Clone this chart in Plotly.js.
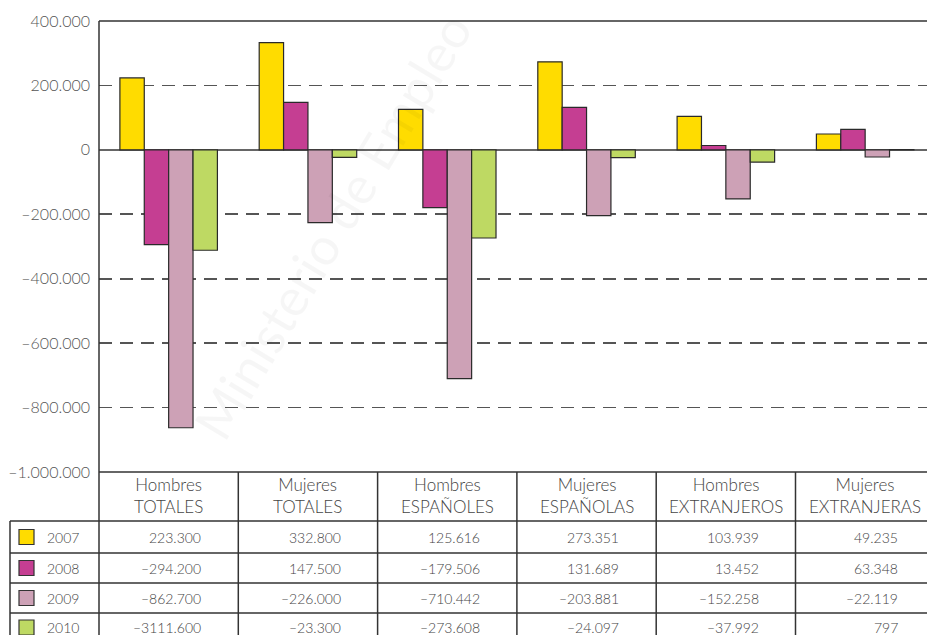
<!DOCTYPE html>
<html>
<head>
<meta charset="utf-8">
<script src="https://cdn.plot.ly/plotly-3.0.1.min.js"></script>
<style>
  html, body { margin: 0; padding: 0; background: #fff; }
  #chart { width: 927px; height: 635px; }
</style>
</head>
<body>
<div id="chart"></div>
<script>
// Variación del empleo por sexo y nacionalidad, 2007-2010.
const groups = ['Hombres TOTALES', 'Mujeres TOTALES', 'Hombres ESPAÑOLES',
                'Mujeres ESPAÑOLAS', 'Hombres EXTRANJEROS', 'Mujeres EXTRANJERAS'];
const groupHeads = ['Hombres<br>TOTALES', 'Mujeres<br>TOTALES', 'Hombres<br>ESPAÑOLES',
                    'Mujeres<br>ESPAÑOLAS', 'Hombres<br>EXTRANJEROS', 'Mujeres<br>EXTRANJERAS'];
const years = ['2007', '2008', '2009', '2010'];
const v2007 = [223300, 332800, 125616, 273351, 103939, 49235];
const v2008 = [-294200, 147500, -179506, 131689, 13452, 63348];
const v2009 = [-862700, -226000, -710442, -203881, -152258, -22119];
const v2010 = [-311600, -23300, -273608, -24097, -37992, 797];
// the printed table carries a typo in this cell (row, column)
const misprints = { '3,0': '–3111.600' };
const yTicks = [400000, 200000, 0, -200000, -400000, -600000, -800000, -1000000];
const yTickText = ['400.000', '200.000', '0', '–200.000', '–400.000',
                   '–600.000', '–800.000', '–1.000.000'];
const colors = ['#FFDC00', '#C53E92', '#CDA1B6', '#BED963'];

const series = [v2007, v2008, v2009, v2010];

// page geometry (px)
const W = 927, H = 635, L = 99, T = 21, B = 163;
const plotW = W - L, plotH = H - T - B, bottom = H - B;
const colW = 139.3;
const rowEdges = [bottom, 521, 553, 583, 613, 650];
const px = x => (x - L) / plotW;
const py = y => (bottom - y) / plotH;
const colEdge = i => L + i * colW;

const FONT = 'Lato, "Open Sans", sans-serif';
const INK = '#333';
const TXT = { family: FONT, size: 14, color: '#444', weight: 300 };

function fmt(v) {
  const s = Math.abs(v).toString().replace(/\B(?=(\d{3})+(?!\d))/g, '.');
  return (v < 0 ? '–' : '') + s;
}

const traces = series.map((vals, k) => ({
  type: 'bar',
  name: years[k],
  x: groups,
  y: vals,
  marker: { color: colors[k], line: { color: '#2a2a2a', width: 1.2 } },
  hoverinfo: 'x+y+name',
}));

const line = (x0, y0, x1, y1, w = 1.5) => ({
  type: 'line', xref: 'paper', yref: 'paper',
  x0: px(x0), y0: py(y0), x1: px(x1), y1: py(y1),
  line: { color: INK, width: w },
});

const shapes = [];
shapes.push(line(L, T, W, T));                  // top frame
shapes.push(line(L, bottom, W, bottom));        // bottom frame / table top
shapes.push(line(L, T, L, H + 10));             // y axis through the table
shapes.push(line(10, rowEdges[1], 10, H + 10)); // legend column edge
for (let i = 1; i < 6; i++) shapes.push(line(colEdge(i), bottom, colEdge(i), H + 10));
for (let r = 1; r < 5; r++) shapes.push(line(10, rowEdges[r], W + 10, rowEdges[r]));

const annotations = [];
// watermark
annotations.push({
  xref: 'paper', yref: 'paper', x: px(332), y: py(226),
  text: 'Ministerio de Empleo', showarrow: false,
  textangle: -59, font: { family: FONT, size: 52, color: 'rgba(0,0,0,0.035)' },
  xanchor: 'center', yanchor: 'middle',
});
// column headers
groupHeads.forEach((h, i) => annotations.push({
  xref: 'paper', yref: 'paper', x: px(colEdge(i) + colW / 2), y: py((rowEdges[0] + rowEdges[1]) / 2 - 1),
  text: h, showarrow: false, xanchor: 'center', yanchor: 'middle',
  font: { ...TXT, size: 17 },
}));
// legend column + values
series.forEach((vals, r) => {
  const yc = (rowEdges[r + 1] + rowEdges[r + 2]) / 2 - (r === 3 ? 4 : 0);
  shapes.push({
    type: 'rect', xref: 'paper', yref: 'paper',
    x0: px(19), x1: px(34), y0: py(yc - 7.5), y1: py(yc + 7.5),
    fillcolor: colors[r], line: { color: INK, width: 1.2 },
  });
  annotations.push({
    xref: 'paper', yref: 'paper', x: px(45), y: py(yc),
    text: years[r], showarrow: false, xanchor: 'left', yanchor: 'middle',
    font: TXT,
  });
  vals.forEach((v, i) => annotations.push({
    xref: 'paper', yref: 'paper', x: px(colEdge(i + 1) - 35), y: py(yc),
    text: misprints[r + ',' + i] || fmt(v), showarrow: false,
    xanchor: 'right', yanchor: 'middle',
    font: TXT,
  }));
});

const layout = {
  width: W, height: H,
  margin: { l: L, r: 0, t: T, b: B, pad: 0 },
  paper_bgcolor: '#fff', plot_bgcolor: 'rgba(0,0,0,0)',
  font: { family: FONT, color: '#555' },
  showlegend: false,
  barmode: 'group', bargap: 0.3, bargroupgap: 0,
  xaxis: {
    type: 'category', range: [-0.5, -0.5 + plotW / colW],
    showticklabels: false, showgrid: false, zeroline: false, showline: false,
    fixedrange: true,
  },
  yaxis: {
    range: [-1000000, 400000],
    tickvals: yTicks, ticktext: yTickText,
    tickfont: { family: FONT, size: 16, color: '#555', weight: 300 },
    ticks: '', ticklabelstandoff: 8,
    showgrid: true, gridcolor: '#555', gridwidth: 1.8, griddash: '13px,8px',
    zeroline: true, zerolinecolor: '#666', zerolinewidth: 2,
    showline: false, fixedrange: true,
  },
  shapes, annotations,
};

Plotly.newPlot('chart', traces, layout, { displayModeBar: false, staticPlot: true });
</script>
</body>
</html>
